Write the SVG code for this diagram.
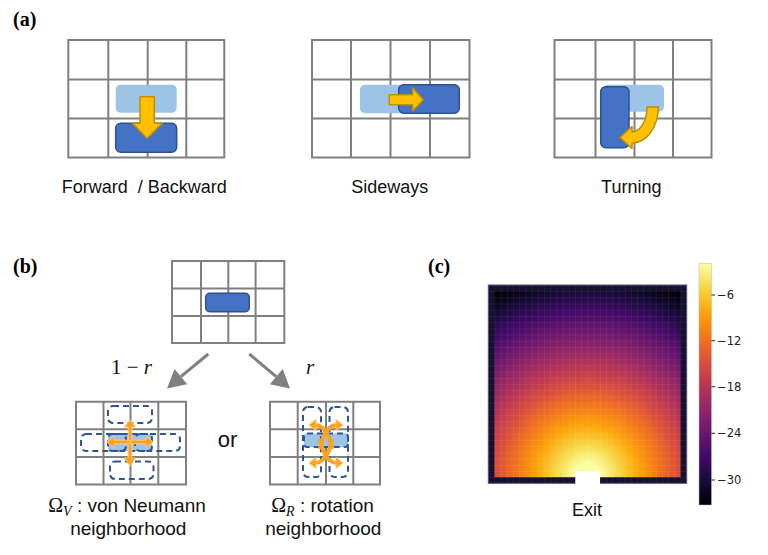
<svg xmlns="http://www.w3.org/2000/svg" width="768" height="555" viewBox="0 0 768 555">
<style>
.grid{fill:none;stroke:#808080;stroke-width:2}
.lb{fill:#9dc3e6}
.db{fill:#4472c4;stroke:#2f528f;stroke-width:1.5}
.gold{fill:#ffc000;stroke:#bf9000;stroke-width:1.5;stroke-linejoin:round}
.dash{fill:none;stroke:#2f5597;stroke-width:2;stroke-dasharray:6 4}
.or{fill:#ffa21f;stroke:#ffc870;stroke-width:1}
.orl{fill:none;stroke:#ffa21f;stroke-width:4}
.sans{font-family:"Liberation Sans",Arial,sans-serif;fill:#111}
.panel{font-family:"Liberation Serif","Times New Roman",serif;font-weight:bold;font-size:20px;fill:#000}
.math{font-family:"Liberation Serif","Times New Roman",serif;fill:#111}
.tick{font-family:"DejaVu Sans",sans-serif;font-size:11.5px;fill:#222}
.conn{stroke:#808080;stroke-width:3;fill:none}
.head{fill:#808080}
</style>
<defs>
<linearGradient id="cbar" x1="0" y1="0" x2="0" y2="1">
<stop offset="0" stop-color="#fcffa4"/><stop offset="0.1" stop-color="#f6d746"/><stop offset="0.2" stop-color="#fca50a"/><stop offset="0.3" stop-color="#f37819"/><stop offset="0.4" stop-color="#dd513a"/><stop offset="0.5" stop-color="#bc3754"/><stop offset="0.6" stop-color="#932667"/><stop offset="0.7" stop-color="#6a176e"/><stop offset="0.8" stop-color="#420a68"/><stop offset="0.9" stop-color="#160b39"/><stop offset="1" stop-color="#000004"/>
</linearGradient>
<radialGradient id="field" gradientUnits="userSpaceOnUse" cx="587.5" cy="476" r="204">
<stop offset="0" stop-color="#fcffa4"/><stop offset="0.0606" stop-color="#fcffa4"/><stop offset="0.1545" stop-color="#f6d746"/><stop offset="0.2485" stop-color="#fca50a"/><stop offset="0.3424" stop-color="#f37819"/><stop offset="0.4364" stop-color="#dd513a"/><stop offset="0.5303" stop-color="#bc3754"/><stop offset="0.6242" stop-color="#932667"/><stop offset="0.7182" stop-color="#6a176e"/><stop offset="0.8121" stop-color="#420a68"/><stop offset="0.9061" stop-color="#160b39"/><stop offset="1" stop-color="#000004"/>
</radialGradient>
<pattern id="cells" patternUnits="userSpaceOnUse" x="488.3" y="285" width="6.2" height="6.2">
<path d="M0 0H6.2M0 0V6.2" stroke="#ffffff" stroke-opacity="0.13" stroke-width="0.8" fill="none"/>
</pattern>
</defs>
<rect width="768" height="555" fill="#ffffff"/>

<!-- Panel (a) -->
<text class="panel" x="13" y="26">(a)</text>

<g id="forward">
<path class="grid" d="M68.3 40H224.3V157.5H68.3Z M108.3 40V157.5 M147.7 40V157.5 M186.3 40V157.5 M68.3 79.5H224.3 M68.3 118.5H224.3"/>
<rect class="lb" x="115.7" y="84.7" width="61" height="28" rx="5"/>
<rect class="db" x="115.7" y="123.3" width="61" height="29" rx="5"/>
<path class="gold" d="M140 96.7H154.3V123.3H162.3L147.2 138.3L132.3 123.3H140Z"/>
<text class="sans" x="144.2" y="192.5" font-size="18" text-anchor="middle" xml:space="preserve">Forward  / Backward</text>
</g>

<g id="sideways">
<path class="grid" d="M312 40H469.5V157.5H312Z M351 40V157.5 M390.5 40V157.5 M430 40V157.5 M312 79.5H469.5 M312 118.5H469.5"/>
<rect class="lb" x="360" y="84.7" width="61" height="28.6" rx="5"/>
<rect class="db" x="398.7" y="84.7" width="60.6" height="28.6" rx="5"/>
<path class="gold" d="M389.3 94.7H412.7V88L423.3 99.7L412.7 111V104.7H389.3Z"/>
<text class="sans" x="389.7" y="192.5" font-size="18" text-anchor="middle">Sideways</text>
</g>

<g id="turning">
<path class="grid" d="M554.5 40H711.5V157.5H554.5Z M595.5 40V157.5 M634.5 40V157.5 M673 40V157.5 M554.5 79.5H711.5 M554.5 118.5H711.5"/>
<rect class="lb" x="603.3" y="84.7" width="60.7" height="27" rx="5"/>
<rect class="db" x="600.7" y="86.7" width="28.3" height="61" rx="5"/>
<path class="gold" d="M647 107H658.3A26.3 36 0 0 1 632 143V148.5L620 137.5L632 126.5V132A15 25 0 0 0 647 107Z"/>
<text class="sans" x="631.3" y="192.5" font-size="18" text-anchor="middle">Turning</text>
</g>

<!-- Panel (b) -->
<text class="panel" x="13" y="273">(b)</text>

<g id="start">
<path class="grid" d="M172 261H284.3V343H172Z M201 261V343 M228.3 261V343 M255.6 261V343 M172 288.5H284.3 M172 316H284.3"/>
<rect class="db" x="205.7" y="293.3" width="43.6" height="18.4" rx="4"/>
</g>

<g id="connectors">
<line class="conn" x1="208.3" y1="354" x2="180.9" y2="376.6"/>
<polygon class="head" points="167,388.5 174.6,368.9 187.2,384.3"/>
<line class="conn" x1="249.3" y1="354" x2="276.2" y2="376.7"/>
<polygon class="head" points="290,388.5 282.7,369 269.8,384.3"/>
<text class="math" x="111" y="374" font-size="21">1 − <tspan font-style="italic">r</tspan></text>
<text class="math" x="306" y="374" font-size="21" font-style="italic">r</text>
</g>

<g id="vonneumann">
<path class="grid" d="M76 401.7H186V484.5H76Z M103.5 401.7V484.5 M130.5 401.7V484.5 M158.3 401.7V484.5 M76 429.3H186 M76 457H186"/>
<rect class="lb" x="108" y="434" width="44" height="17" rx="4"/>
<rect class="dash" x="108" y="406" width="44" height="17" rx="5"/>
<rect class="dash" x="110" y="461.5" width="43.5" height="17.5" rx="5"/>
<rect class="dash" x="81" y="434" width="45" height="17" rx="5"/>
<rect class="dash" x="135" y="434" width="45" height="17" rx="5"/>
<rect class="dash" x="108" y="434" width="44" height="17" rx="4"/>
<polygon class="or" points="128.2,442 128.2,427 124.5,427 130,420 135.5,427 131.8,427 131.8,442"/>
<polygon class="or" points="128.2,442 128.2,458 124.5,458 130,466 135.5,458 131.8,458 131.8,442"/>
<polygon class="or" points="130,440.2 114,440.2 114,436.5 106.7,442 114,447.5 114,443.8 130,443.8"/>
<polygon class="or" points="130,440.2 146,440.2 146,436.5 153.3,442 146,447.5 146,443.8 130,443.8"/>
<text class="sans" x="127" y="511.7" font-size="19" text-anchor="middle"><tspan class="math" font-size="20">Ω</tspan><tspan class="math" font-style="italic" font-size="14" dy="4">V</tspan><tspan dy="-4"> : von Neumann</tspan></text>
<text class="sans" x="128.3" y="535" font-size="19" text-anchor="middle">neighborhood</text>
</g>

<text class="sans" x="227.5" y="446.7" font-size="22" text-anchor="middle">or</text>

<g id="rotation">
<path class="grid" d="M270 401.7H380V484.5H270Z M297.7 401.7V484.5 M326 401.7V484.5 M353.3 401.7V484.5 M270 429.3H380 M270 457H380"/>
<rect class="lb" x="304" y="433.5" width="44" height="13.5" rx="3"/>
<rect class="dash" x="303" y="407" width="18" height="70" rx="5"/>
<rect class="dash" x="329.5" y="407" width="18.5" height="70" rx="5"/>
<rect class="dash" x="304" y="433.5" width="44" height="13.5" rx="3"/>
<path class="orl" d="M332 449C330 436 324 426 316 425"/>
<polygon class="or" points="309,425 316,419.5 316,430.5"/>
<path class="orl" d="M320 449C322 436 328 426 336 425"/>
<polygon class="or" points="343,425 336,419.5 336,430.5"/>
<path class="orl" d="M332 439C330 452 324 462 316 463"/>
<polygon class="or" points="309,463 316,457.5 316,468.5"/>
<path class="orl" d="M320 439C322 452 328 462 336 463"/>
<polygon class="or" points="343,463 336,457.5 336,468.5"/>
<text class="sans" x="322.5" y="511.7" font-size="19" text-anchor="middle"><tspan class="math" font-size="20">Ω</tspan><tspan class="math" font-style="italic" font-size="14" dy="4">R</tspan><tspan dy="-4"> : rotation</tspan></text>
<text class="sans" x="323.3" y="535" font-size="19" text-anchor="middle">neighborhood</text>
</g>

<!-- Panel (c) -->
<text class="panel" x="428" y="273">(c)</text>

<g id="heatmap">
<rect x="488.3" y="285" width="198.4" height="198.3" fill="#16112e"/>
<rect x="494.5" y="291.2" width="186" height="186" fill="url(#field)"/>
<rect x="488.3" y="285" width="198.4" height="198.3" fill="url(#cells)" stroke="#57517a" stroke-width="1"/>
<rect x="575.3" y="471" width="24.7" height="13" fill="#ffffff"/>
<text class="sans" x="587" y="516" font-size="18" text-anchor="middle">Exit</text>
</g>

<g id="colorbar">
<rect x="699" y="263.3" width="12.5" height="241.7" fill="url(#cbar)" stroke="#bbbbbb" stroke-width="0.5"/>
<path d="M711.5 295H715 M711.5 340.7H715 M711.5 386.7H715 M711.5 433.3H715 M711.5 480H715" stroke="#222" stroke-width="1"/>
<text class="tick" x="717" y="299">−6</text>
<text class="tick" x="717" y="344.7">−12</text>
<text class="tick" x="717" y="390.7">−18</text>
<text class="tick" x="717" y="437.3">−24</text>
<text class="tick" x="717" y="484">−30</text>
</g>
</svg>
